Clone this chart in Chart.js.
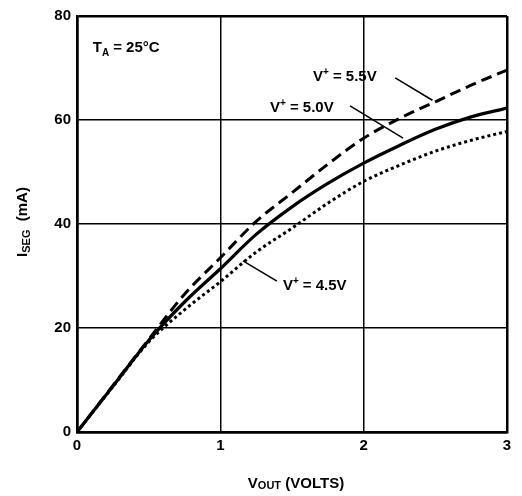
<!DOCTYPE html>
<html>
<head>
<meta charset="utf-8">
<script src="https://cdn.jsdelivr.net/npm/chart.js@4/dist/chart.umd.min.js"></script>
<style>
  html, body { margin: 0; padding: 0; background: #fff; }
  canvas { display: block; }
</style>
</head>
<body>
<canvas id="c" width="522" height="496"></canvas>
<script>
// values
const vout   = [0, 0.25, 0.5, 0.75, 1, 1.25, 1.5, 1.75, 2, 2.25, 2.5, 2.75, 3];
const iseg55 = [0, 8.9, 17.8, 26.5, 33.5, 40.5, 46, 51.5, 56.5, 60.3, 63.5, 66.7, 69.6];
const iseg50 = [0, 8.8, 17.6, 25, 31.4, 38, 43.3, 47.8, 51.7, 55.1, 58.2, 60.6, 62.3];
const iseg45 = [0, 8.7, 17.3, 23.5, 28.9, 34.6, 39.2, 44, 48.2, 51.3, 54, 56.1, 57.8];
const xTicks = [0, 1, 2, 3];
const yTicks = [0, 20, 40, 60, 80];

const FONT = '"Liberation Sans", Arial, sans-serif';
const pts = ys => vout.map((x, i) => ({ x, y: ys[i] }));

// text labels, leader lines and axis titles (subscripts need manual drawing)
const notes = {
  id: 'notes',
  afterDraw(chart) {
    const { ctx, scales: { x, y } } = chart;
    const px = v => x.getPixelForValue(v), py = v => y.getPixelForValue(v);
    ctx.save();
    ctx.fillStyle = '#000';
    ctx.strokeStyle = '#000';
    ctx.textBaseline = 'alphabetic';

    function vplus(vx, vy, val) {
      let cx = px(vx), cy = py(vy);
      ctx.font = 'bold 15px ' + FONT;
      ctx.fillText('V', cx, cy);
      cx += ctx.measureText('V').width;
      ctx.font = 'bold 10px ' + FONT;
      ctx.fillText('+', cx, cy - 6);
      cx += ctx.measureText('+').width + 4;
      ctx.font = 'bold 15px ' + FONT;
      ctx.fillText('= ' + val, cx, cy);
    }
    function leader(x1, y1, x2, y2) {
      ctx.lineWidth = 1.5;
      ctx.beginPath();
      ctx.moveTo(px(x1), py(y1));
      ctx.lineTo(px(x2), py(y2));
      ctx.stroke();
    }

    // T_A = 25°C
    let tx = px(0.11), ty = py(73);
    ctx.font = 'bold 15px ' + FONT;
    ctx.fillText('T', tx, ty);
    tx += ctx.measureText('T').width;
    ctx.font = 'bold 10px ' + FONT;
    ctx.fillText('A', tx, ty + 4);
    tx += ctx.measureText('A').width + 4;
    ctx.font = 'bold 15px ' + FONT;
    ctx.fillText('= 25°C', tx, ty);

    vplus(1.647, 67.5, '5.5V');
    leader(2.22, 68.1, 2.48, 63.8);
    vplus(1.347, 61.5, '5.0V');
    leader(1.905, 62.7, 2.275, 56.5);
    vplus(1.437, 27.3, '4.5V');
    leader(1.158, 32.9, 1.395, 29.0);

    // x title: V_OUT (VOLTS)
    const p1 = 'V', p3 = ' (VOLTS)';
    ctx.font = 'bold 15px ' + FONT; const w1 = ctx.measureText(p1).width, w3 = ctx.measureText(p3).width;
    ctx.font = 'bold 11px ' + FONT; const w2 = ctx.measureText('OUT').width;
    let sx = (px(0) + px(3)) / 2 + 4 - (w1 + w2 + w3) / 2, sy = 488;
    ctx.font = 'bold 15px ' + FONT; ctx.fillText(p1, sx, sy); sx += w1;
    ctx.font = 'bold 11px ' + FONT; ctx.fillText('OUT', sx, sy + 1); sx += w2;
    ctx.font = 'bold 15px ' + FONT; ctx.fillText(p3, sx, sy);

    // y title: I_SEG (mA), rotated
    ctx.translate(27, 222);
    ctx.rotate(-Math.PI / 2);
    ctx.font = 'bold 15px ' + FONT; const a1 = ctx.measureText('I').width, a3 = ctx.measureText('  (mA)').width;
    ctx.font = 'bold 11px ' + FONT; const a2 = ctx.measureText('SEG').width;
    let rx = -(a1 + a2 + a3) / 2;
    ctx.font = 'bold 15px ' + FONT; ctx.fillText('I', rx, 0); rx += a1;
    ctx.font = 'bold 11px ' + FONT; ctx.fillText('SEG', rx, 3); rx += a2;
    ctx.font = 'bold 15px ' + FONT; ctx.fillText('  (mA)', rx, 0);
    ctx.restore();
  }
};

const edge = (min, max) => c => (c.tick && (c.tick.value === min || c.tick.value === max)) ? 2.5 : 1.5;

new Chart(document.getElementById('c'), {
  type: 'line',
  data: {
    datasets: [
      { label: 'V+ = 5.5V', data: pts(iseg55), borderColor: '#000', borderWidth: 3, borderDash: [11, 6], pointRadius: 0, cubicInterpolationMode: 'monotone' },
      { label: 'V+ = 5.0V', data: pts(iseg50), borderColor: '#000', borderWidth: 3.2, pointRadius: 0, cubicInterpolationMode: 'monotone' },
      { label: 'V+ = 4.5V', data: pts(iseg45), borderColor: '#000', borderWidth: 3, borderDash: [3, 3], pointRadius: 0, cubicInterpolationMode: 'monotone' }
    ]
  },
  options: {
    responsive: false,
    animation: false,
    layout: { padding: { top: 16, right: 15, left: 0, bottom: 0 } },
    plugins: { legend: { display: false }, tooltip: { enabled: false } },
    scales: {
      x: {
        type: 'linear', min: 0, max: 3,
        afterBuildTicks: s => { s.ticks = xTicks.map(v => ({ value: v })); },
        afterFit: s => { s.height = 64; },
        grid: { color: '#000', lineWidth: edge(0, 3), drawTicks: false },
        border: { color: '#000', width: 2.5 },
        ticks: { color: '#000', padding: 5, font: { family: FONT, size: 15, weight: 'bold' } }
      },
      y: {
        type: 'linear', min: 0, max: 80,
        afterBuildTicks: s => { s.ticks = yTicks.map(v => ({ value: v })); },
        afterFit: s => { s.width = 77; },
        grid: { color: '#000', lineWidth: edge(0, 80), drawTicks: false },
        border: { color: '#000', width: 2.5 },
        ticks: { color: '#000', padding: 6, font: { family: FONT, size: 15, weight: 'bold' } }
      }
    }
  },
  plugins: [notes]
});
</script>
</body>
</html>
